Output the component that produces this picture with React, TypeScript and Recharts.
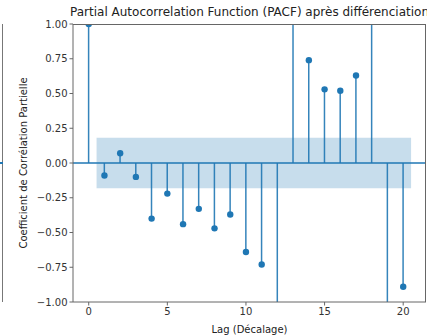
import React from 'react'
import {
  ComposedChart, Bar, Scatter, XAxis, YAxis, ReferenceArea, ReferenceLine,
} from 'recharts'

// lags 0..20 and partial autocorrelation values
// (12, 13, 18, 19 run off the plot, so they are set past +/-1)
const lags = [0, 1, 2, 3, 4, 5, 6, 7, 8, 9, 10, 11, 12, 13, 14, 15, 16, 17, 18, 19, 20]
const pacf = [
  1.0, -0.09, 0.07, -0.1, -0.4, -0.22, -0.44, -0.33, -0.47, -0.37,
  -0.64, -0.73, -1.6, 1.6, 0.74, 0.53, 0.52, 0.63, 1.6, -1.6, -0.89,
]
const confBand = [-0.182, 0.182]
const xTicks = [0, 5, 10, 15, 20]
const yTicks = [-1, -0.75, -0.5, -0.25, 0, 0.25, 0.5, 0.75, 1]
const xDomain = [-1, 21.45]

const BLUE = '#1f77b4'
const SPINE = '#666'
const FONT = '"DejaVu Sans", sans-serif'
const tickStyle = { fill: '#333', fontSize: 10, fontFamily: FONT }

const data = lags.map((lag, i) => ({ lag, pacf: pacf[i] }))

const fmt = (v: number) => v.toFixed(2).replace('-', '\u2212')

export default function App() {
  return (
    <div style={{ position: 'absolute', left: 0, top: 0, width: 427, height: 335, overflow: 'hidden', background: '#fff' }}>
      {/* edge of the neighbouring subplot */}
      <div style={{ position: 'absolute', left: 2, top: 24, width: 1, height: 278, background: '#777' }} />
      <div style={{ position: 'absolute', left: 0, top: 162, width: 3, height: 1.5, background: BLUE }} />

      <div style={{
        position: 'absolute', left: 70, top: 5, whiteSpace: 'nowrap',
        fontFamily: FONT, fontSize: 12, color: '#222',
      }}>
        Partial Autocorrelation Function (PACF) après différenciation
      </div>

      <div style={{
        position: 'absolute', left: 23, top: 163, transform: 'translate(-50%, -50%) rotate(-90deg)',
        whiteSpace: 'nowrap', fontFamily: FONT, fontSize: 10, color: '#222',
      }}>
        Coefficient de Corrélation Partielle
      </div>

      <ComposedChart
        width={427}
        height={335}
        data={data}
        margin={{ top: 24, right: 1, bottom: 0, left: 0 }}
      >
        <XAxis
          dataKey="lag"
          type="number"
          domain={xDomain}
          ticks={xTicks}
          allowDataOverflow
          height={33}
          stroke={SPINE}
          tickSize={3.5}
          tick={tickStyle}
          label={{ value: 'Lag (Décalage)', position: 'insideBottom', offset: 2, style: { ...tickStyle, fill: '#222' } }}
        />
        <YAxis
          type="number"
          domain={[-1, 1]}
          ticks={yTicks}
          allowDataOverflow
          width={73}
          stroke={SPINE}
          tickSize={3.5}
          tick={tickStyle}
          tickFormatter={fmt}
        />
        <ReferenceArea
          x1={0.5}
          x2={20.5}
          y1={confBand[0]}
          y2={confBand[1]}
          fill={BLUE}
          fillOpacity={0.25}
          stroke="none"
          ifOverflow="hidden"
        />
        <ReferenceLine y={0} stroke={BLUE} strokeWidth={1.5} />
        <Bar dataKey="pacf" barSize={1.5} fill={BLUE} fillOpacity={0.9} isAnimationActive={false} />
        <Scatter dataKey="pacf" fill={BLUE} isAnimationActive={false}
          shape={(p: any) => <circle cx={p.cx} cy={p.cy} r={3.2} fill={BLUE} />} />
      </ComposedChart>

      {/* top and right spines */}
      <div style={{
        position: 'absolute', left: 73, top: 24, width: 353, height: 278,
        borderTop: `1px solid ${SPINE}`, borderRight: `1px solid ${SPINE}`,
        boxSizing: 'border-box', pointerEvents: 'none',
      }} />
    </div>
  )
}
